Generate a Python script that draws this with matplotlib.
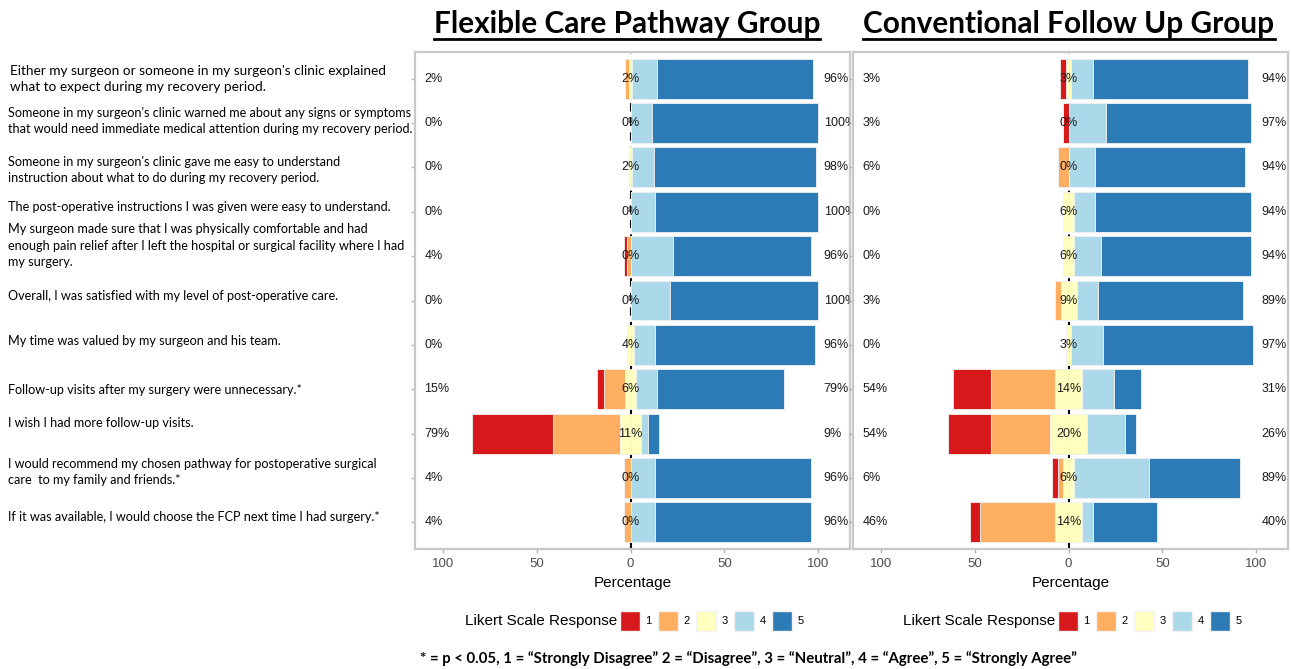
import matplotlib
matplotlib.use("Agg")
import matplotlib.pyplot as plt
from matplotlib.patches import Patch
from matplotlib.lines import Line2D
import numpy as np

# Preguntas de la encuesta (de arriba a abajo)
preguntas = [
    "Either my surgeon or someone in my surgeon's clinic explained\nwhat to expect during my recovery period.",
    "Someone in my surgeon's clinic warned me about any signs or symptoms\nthat would need immediate medical attention during my recovery period.",
    "Someone in my surgeon's clinic gave me easy to understand\ninstruction about what to do during my recovery period.",
    "The post-operative instructions I was given were easy to understand.",
    "My surgeon made sure that I was physically comfortable and had\nenough pain relief after I left the hospital or surgical facility where I had\nmy surgery.",
    "Overall, I was satisfied with my level of post-operative care.",
    "My time was valued by my surgeon and his team.",
    "Follow-up visits after my surgery were unnecessary.*",
    "I wish I had more follow-up visits.",
    "I would recommend my chosen pathway for postoperative surgical\ncare  to my family and friends.*",
    "If it was available, I would choose the FCP next time I had surgery.*",
]

titulos = ["Flexible Care Pathway Group", "Conventional Follow Up Group"]
niveles = ["1", "2", "3", "4", "5"]

# Porcentajes por respuesta (1..5), grupo FCP
fcp_1 = [0.0, 0.0, 0.0, 0.0, 1.9, 0.0, 0.0, 3.8, 43.4, 0.0, 0.0]
fcp_2 = [1.9, 0.0, 0.0, 0.0, 1.9, 0.0, 0.0, 11.3, 35.8, 3.8, 3.8]
fcp_3 = [1.9, 0.0, 1.9, 0.0, 0.0, 0.0, 3.8, 5.7, 11.3, 0.0, 0.0]
fcp_4 = [13.2, 11.3, 11.3, 13.2, 22.6, 20.8, 11.3, 11.3, 3.8, 13.2, 13.2]
fcp_5 = [83.0, 88.7, 86.8, 86.8, 73.6, 79.2, 84.9, 67.9, 5.6, 83.0, 83.0]

# Porcentajes por respuesta (1..5), grupo convencional
conv_1 = [2.9, 2.9, 0.0, 0.0, 0.0, 0.0, 0.0, 20.0, 22.9, 2.9, 5.7]
conv_2 = [0.0, 0.0, 5.7, 0.0, 0.0, 2.9, 0.0, 34.3, 31.4, 2.9, 40.0]
conv_3 = [2.9, 0.0, 0.0, 5.7, 5.7, 8.6, 2.9, 14.3, 20.0, 5.7, 14.3]
conv_4 = [11.4, 20.0, 14.3, 11.4, 14.3, 11.4, 17.1, 17.1, 20.0, 40.0, 5.7]
conv_5 = [82.9, 77.1, 80.0, 82.9, 80.0, 77.2, 80.0, 14.3, 5.7, 48.6, 34.3]

colores = ["#D7191C", "#FDAE61", "#FFFFBF", "#ABD9E9", "#2C7BB6"]

W, H = 1291, 669
fig = plt.figure(figsize=(W / 100, H / 100), dpi=100)

def px(x, y):
    return x / W, 1 - y / H

grupos = [
    (fcp_1, fcp_2, fcp_3, fcp_4, fcp_5),
    (conv_1, conv_2, conv_3, conv_4, conv_5),
]
x_ejes = [415, 853]
ancho = 435
for g, (datos, x0) in enumerate(zip(grupos, x_ejes)):
    ax = fig.add_axes([x0 / W, 1 - 549 / H, ancho / W, 497 / H])
    p1, p2, p3, p4, p5 = [np.array(d) for d in datos]
    y = np.arange(1, len(p1) + 1)
    h = 0.9
    kw = dict(height=h, edgecolor="#f2f2f2", linewidth=0.6, zorder=3)
    # neutro dividido en dos mitades
    ax.barh(y, -p3 / 2, color=colores[2], **kw)
    ax.barh(y, p3 / 2, color=colores[2], **kw)
    ax.barh(y, -p2, left=-p3 / 2, color=colores[1], **kw)
    ax.barh(y, -p1, left=-p3 / 2 - p2, color=colores[0], **kw)
    ax.barh(y, p4, left=p3 / 2, color=colores[3], **kw)
    ax.barh(y, p5, left=p3 / 2 + p4, color=colores[4], **kw)
    ax.axvline(0, color="black", linestyle=(0, (4, 3)), linewidth=1.5, zorder=1)

    for yi, a, b, c in zip(y, p1 + p2, p3, p4 + p5):
        ax.text(-110, yi, f"{round(a)}%", ha="left", va="center",
                fontsize=9, family="Liberation Sans", color="#1a1a1a", zorder=5)
        ax.text(0, yi, f"{round(b)}%", ha="center", va="center",
                fontsize=9, family="Liberation Sans", color="#1a1a1a", zorder=5)
        ax.text(103, yi, f"{round(c)}%", ha="left", va="center", clip_on=True,
                fontsize=9, family="Liberation Sans", color="#1a1a1a", zorder=5)

    ax.set_xlim(-115, 117)
    ax.set_ylim(len(p1) + 0.6, 0.4)
    ax.set_xticks([-100, -50, 0, 50, 100])
    ax.set_xticklabels(["100", "50", "0", "50", "100"])
    ax.set_yticks(y)
    ax.set_yticklabels([])
    ax.tick_params(axis="both", colors="#b3b3b3", length=3, width=1,
                   labelcolor="#4d4d4d", labelsize=9.5)
    for lab in ax.get_xticklabels():
        lab.set_family("Liberation Sans")
    for s in ax.spines.values():
        s.set_color("#c8c8c8")
        s.set_linewidth(1.6)
    ax.set_xlabel("Percentage", fontsize=11, family="Liberation Sans",
                  labelpad=4)

    # leyenda
    xl = 465 + (x0 - 415)
    fig.text(*px(xl, 621), "Likert Scale Response", ha="left", va="center",
             fontsize=11, family="Liberation Sans")
    handles = [Patch(facecolor=c, edgecolor="#f2f2f2") for c in colores]
    fig.legend(handles, niveles, ncol=5, frameon=False, loc="center left",
               bbox_to_anchor=px(xl + 155, 621), borderpad=0,
               borderaxespad=0, handlelength=1.8, handleheight=2.3,
               handletextpad=0.5, columnspacing=0.55,
               prop={"family": "Liberation Sans", "size": 8})

# títulos subrayados
tit_x = [627, 1069]
textos_tit = []
for t, xc in zip(titulos, tit_x):
    textos_tit.append(fig.text(*px(xc, 24), t, ha="center", va="center",
                               fontsize=21.4, fontweight="bold", family="Lato"))

# preguntas
pregunta_y = [79, 121, 170, 207, 246, 296, 341, 390, 423, 472, 517]
for i, (q, yp) in enumerate(zip(preguntas, pregunta_y)):
    fig.text(*px(10 if i == 0 else 8, yp), q, ha="left", va="center",
             fontsize=9.85 if i == 0 else 9.05, family="Lato", linespacing=1.45)

fig.text(*px(420, 659),
         "* = p < 0.05, 1 = \u201cStrongly Disagree\u201d 2 = \u201cDisagree\u201d, 3 = \u201cNeutral\u201d, "
         "4 = \u201cAgree\u201d, 5 = \u201cStrongly Agree\u201d",
         ha="left", va="center", fontsize=10.8, fontweight="bold", family="Lato")

fig.canvas.draw()
r = fig.canvas.get_renderer()
for t in textos_tit:
    bb = t.get_window_extent(r)
    yline = bb.y0 - 1
    fig.add_artist(Line2D([bb.x0 / W, bb.x1 / W], [yline / H, yline / H],
                          color="black", linewidth=2))

fig.savefig("out.png", dpi=100)
